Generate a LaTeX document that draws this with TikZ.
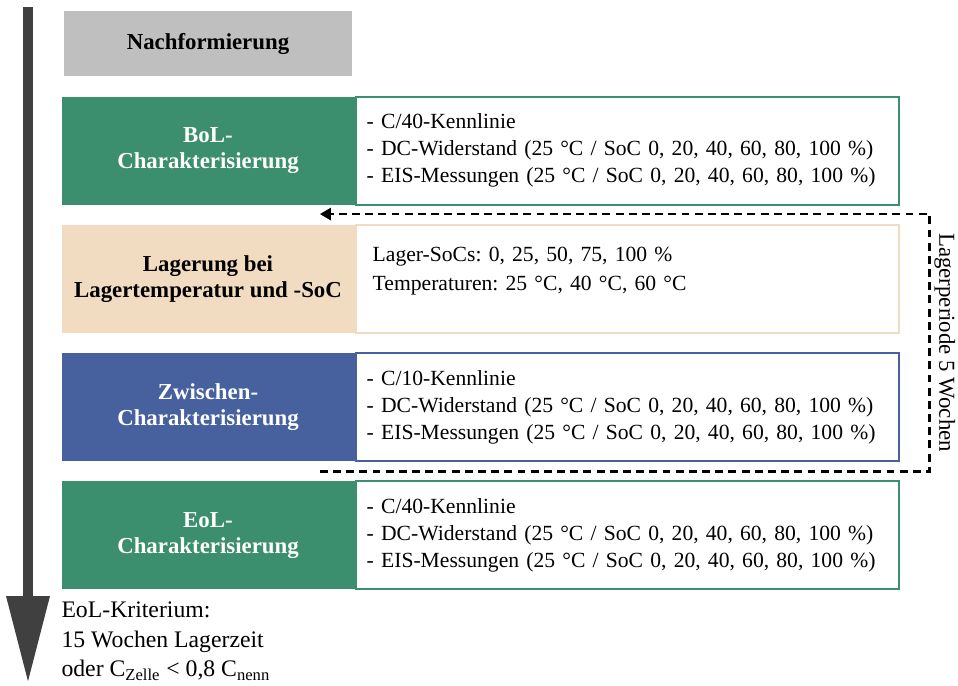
\documentclass[tikz,border=0pt]{standalone}
\usepackage{fontspec}
\setmainfont{Liberation Serif}
\usetikzlibrary{positioning,arrows.meta}

\definecolor{nachgray}{HTML}{BFBFBF}
\definecolor{chargreen}{HTML}{3B8E6E}
\definecolor{storbeige}{HTML}{F2DCC1}
\definecolor{zwiblue}{HTML}{46619E}
\definecolor{timegray}{HTML}{404040}

\begin{document}
\frenchspacing
\begin{tikzpicture}[node distance=0.39cm and 0cm,
  every node/.style={font=\fontsize{12.3}{15.3}\selectfont}]
\tikzstyle{phase}=[minimum width=5.86cm,minimum height=2.16cm,inner sep=0pt,
  align=center,font=\fontsize{13}{14.8}\selectfont\bfseries]
\tikzstyle{info}=[draw,line width=1pt,fill=white,minimum height=2.16cm,
  text width=10.42cm,inner xsep=0.22cm,inner ysep=0pt,align=left]
\tikzstyle{loopline}=[line width=1.5pt,dash pattern=on 4.5pt off 3pt,
  -{Triangle[length=0.22cm,width=0.24cm]}]
\useasboundingbox (0,0) rectangle (19.16,-13.7);

% time axis
\coordinate (tstart) at (0.56,-0.14);
\coordinate (tend) at (0.56,-13.66);
\draw[timegray,line width=0.2cm,-{Triangle[width=0.82cm,length=1.74cm]}] (tstart) -- (tend);

\node [fill=nachgray,minimum width=5.76cm,minimum height=1.3cm,
  font=\fontsize{13}{14.8}\selectfont\bfseries] (nach) at (4.16,-0.87) {Nachformierung};

\node [phase,fill=chargreen,text=white,below=0.4cm of nach] (bol) {BoL-\\Charakterisierung};
\node [info,draw=chargreen,right=0pt of bol] (bolinfo)
  {- C/40-Kennlinie\\- DC-Widerstand (25 °C / SoC 0, 20, 40, 60, 80, 100 \%)\\- EIS-Messungen (25 °C / SoC 0, 20, 40, 60, 80, 100 \%)};

\node [phase,fill=storbeige,below=of bol] (lag) {Lagerung bei\\Lagertemperatur und -SoC};
\node [info,draw=storbeige,right=0pt of lag,inner xsep=0.34cm,text width=10.18cm,
  font=\fontsize{12.3}{16.5}\selectfont,text depth=28pt] (laginfo)
  {Lager-SoCs: 0, 25, 50, 75, 100 \%\\Temperaturen: 25 °C, 40 °C, 60 °C};

\node [phase,fill=zwiblue,text=white,below=of lag] (zwi) {Zwischen-\\Charakterisierung};
\node [info,draw=zwiblue,right=0pt of zwi] (zwiinfo)
  {- C/10-Kennlinie\\- DC-Widerstand (25 °C / SoC 0, 20, 40, 60, 80, 100 \%)\\- EIS-Messungen (25 °C / SoC 0, 20, 40, 60, 80, 100 \%)};

\node [phase,fill=chargreen,text=white,below=of zwi] (eol) {EoL-\\Charakterisierung};
\node [info,draw=chargreen,right=0pt of eol] (eolinfo)
  {- C/40-Kennlinie\\- DC-Widerstand (25 °C / SoC 0, 20, 40, 60, 80, 100 \%)\\- EIS-Messungen (25 °C / SoC 0, 20, 40, 60, 80, 100 \%)};

\node [below right=0.12cm and 0cm of eol.south west,inner xsep=0pt,align=left,
  font=\fontsize{13.5}{16.8}\selectfont] (crit)
  {EoL-Kriterium:\\15 Wochen Lagerzeit\\oder C\textsubscript{Zelle} < 0,8 C\textsubscript{nenn}};

% storage loop
\coordinate [below=0.18cm of bol.south east,xshift=-0.7cm] (looptop);
\coordinate [below=0.195cm of zwi.south east,xshift=-0.7cm] (loopbot);
\coordinate [right=0.6cm of laginfo.east] (loopside);
\draw[loopline] (loopbot) -- (loopbot -| loopside)
  -- node[midway,anchor=south,rotate=-90,inner sep=2pt,font=\fontsize{13}{15}\selectfont] {Lagerperiode 5 Wochen}
  (looptop -| loopside) -- (looptop);
\end{tikzpicture}
\end{document}
